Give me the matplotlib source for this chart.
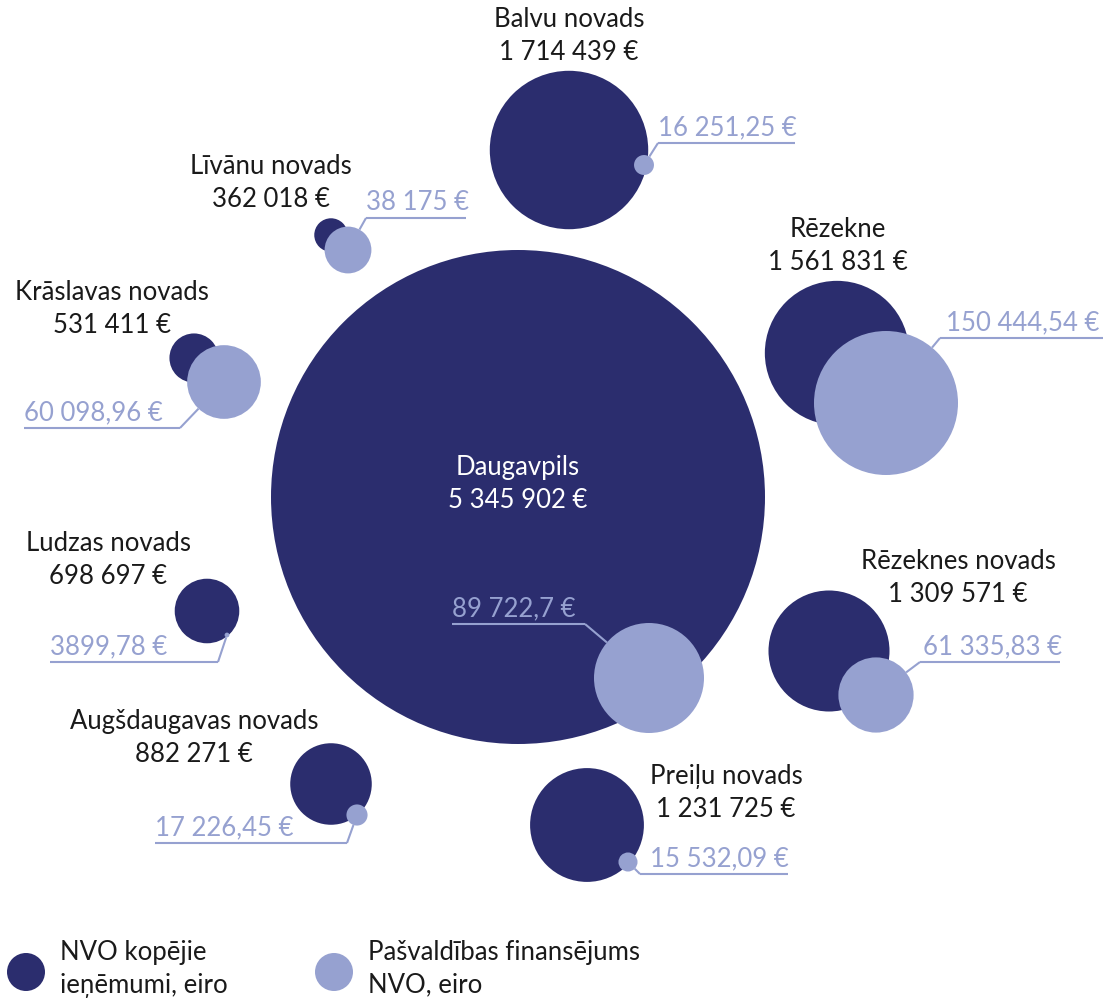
import matplotlib.pyplot as plt
from matplotlib.patches import Circle

plt.rcParams['font.family'] = ['Lato', 'DejaVu Sans']

# data
regions = ['Daugavpils', 'Balvu novads', 'Līvānu novads', 'Krāslavas novads', 'Rēzekne',
           'Ludzas novads', 'Rēzeknes novads', 'Augšdaugavas novads', 'Preiļu novads']
nvo_total = [5345902, 1714439, 362018, 531411, 1561831, 698697, 1309571, 882271, 1231725]
municipal = [89722.7, 16251.25, 38175, 60098.96, 150444.54, 3899.78, 61335.83, 17226.45, 15532.09]
municipal_labels = ['89 722,7 €', '16 251,25 €', '38 175 €', '60 098,96 €', '150 444,54 €',
                    '3899,78 €', '61 335,83 €', '17 226,45 €', '15 532,09 €']

DARK = '#2b2d6e'
LIGHT = '#96a1d0'
TEXT = '#1a1a1a'
FS = 18.5
LS = 1.37

# layout in pixels: dark centre, light centre, name label centre,
# value line (x0, x1, y, elbow side, text x)
layout = {
    'Daugavpils':          ((518, 497), (649, 678), (518, 484), (452, 585, 624, 'r', 452)),
    'Balvu novads':        ((569, 150), (644, 165), (569, 36),  (658, 795, 143, 'l', 658)),
    'Līvānu novads':       ((331, 235), (348, 250), (271, 183), (366, 466, 218, 'l', 366)),
    'Krāslavas novads':    ((194, 358), (224, 382), (112, 309), (24, 180, 428, 'r', 24)),
    'Rēzekne':             ((837, 353), (886, 403), (838, 246), (940, 1103, 338, 'l', 946)),
    'Ludzas novads':       ((207, 611), (227, 635), (108, 560), (50, 218, 662, 'r', 50)),
    'Rēzeknes novads':     ((829, 651), (876, 695), (958, 578), (920, 1060, 662, 'l', 923)),
    'Augšdaugavas novads': ((331, 784), (357, 815), (194, 738), (155, 347, 843, 'r', 155)),
    'Preiļu novads':       ((587, 825), (628, 862), (726, 793), (640, 788, 874, 'l', 650)),
}

# radius scales (pixels per euro)
k_dark = 247 / max(nvo_total)
k_light = 55 / 89722.7
r_light_max = 72


def fmt_int(v):
    return f'{v:,}'.replace(',', ' ') + ' €'


fig = plt.figure(figsize=(11.17, 10), dpi=100)
ax = fig.add_axes([0, 0, 1, 1])
ax.set_xlim(0, 1117)
ax.set_ylim(1000, 0)
ax.set_aspect('equal')
ax.axis('off')

for name, total, mun, mlab in zip(regions, nvo_total, municipal, municipal_labels):
    cd, cl, lab, (x0, x1, yl, side, tx) = layout[name]
    rd = k_dark * total
    rl = min(k_light * mun, r_light_max)
    ax.add_patch(Circle(cd, rd, color=DARK, lw=0, zorder=1))
    ax.add_patch(Circle(cl, rl, color=LIGHT, lw=0, zorder=2))

    col = 'white' if name == 'Daugavpils' else TEXT
    ax.text(lab[0], lab[1], name + '\n' + fmt_int(total), ha='center', va='center',
            fontsize=FS, color=col, linespacing=LS, zorder=4)

    # leader line from light circle edge to underline
    ex = x0 if side == 'l' else x1
    dx, dy = ex - cl[0], yl - cl[1]
    d = (dx ** 2 + dy ** 2) ** 0.5
    sx, sy = cl[0] + dx / d * rl, cl[1] + dy / d * rl
    ax.plot([sx, ex], [sy, yl], color=LIGHT, lw=1.5, zorder=3, solid_capstyle='butt')
    ax.plot([x0, x1], [yl, yl], color=LIGHT, lw=1.5, zorder=3, solid_capstyle='butt')
    ax.text(tx, yl - 3, mlab, ha='left', va='bottom', fontsize=FS, color=LIGHT, zorder=4)

# legend
ax.add_patch(Circle((26, 972), 19, color=DARK, lw=0))
ax.text(60, 969, 'NVO kopējie\nieņēmumi, eiro', ha='left', va='center',
        fontsize=FS, color=TEXT, linespacing=LS)
ax.add_patch(Circle((334, 972), 19, color=LIGHT, lw=0))
ax.text(368, 969, 'Pašvaldības finansējums\nNVO, eiro', ha='left', va='center',
        fontsize=FS, color=TEXT, linespacing=LS)

fig.savefig('out.png', dpi=100)
